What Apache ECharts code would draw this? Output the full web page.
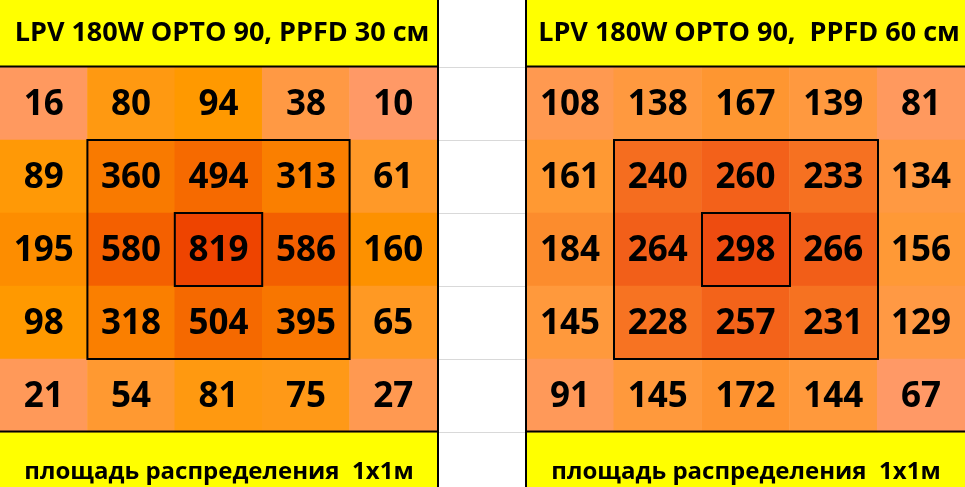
<!DOCTYPE html>
<html><head><meta charset="utf-8">
<script src="https://cdn.jsdelivr.net/npm/echarts@6/dist/echarts.min.js"></script>
<style>html,body{margin:0;padding:0;background:#fff}#c{width:965px;height:487px}</style>
</head><body><div id="c"></div>
<script>
const cols = ['1', '2', '3', '4', '5'];
const rows = ['1', '2', '3', '4', '5'];
const titleLeft = 'LPV 180W OPTO 90, PPFD 30 см';
const titleRight = 'LPV 180W OPTO 90,  PPFD 60 см';
const footerText = 'площадь распределения  1x1м';
const ppfd30 = [
  [16, 80, 94, 38, 10],
  [89, 360, 494, 313, 61],
  [195, 580, 819, 586, 160],
  [98, 318, 504, 395, 65],
  [21, 54, 81, 75, 27]
];
const ppfd60 = [
  [108, 138, 167, 139, 81],
  [161, 240, 260, 233, 134],
  [184, 264, 298, 266, 156],
  [145, 228, 257, 231, 129],
  [91, 145, 172, 144, 67]
];

// ---- layout / style ----
const L = { left: 0, width: 437 };
const R = { left: 526, width: 440 };
const TOP = 67, H = 365;
const leftStops = ['#FF9966', '#FF9900', '#EE4400'];
const rightStops = ['#FF9966', '#FF9933', '#EE4C10'];

function hex(c) { return [1, 3, 5].map(i => parseInt(c.slice(i, i + 2), 16)); }
function mix(a, b, t) {
  const A = hex(a), B = hex(b);
  return 'rgb(' + A.map((v, i) => Math.round(v + (B[i] - v) * t)).join(',') + ')';
}
function colorScale(values, stops) {
  const flat = values.flat().slice().sort((a, b) => a - b);
  const min = flat[0], max = flat[flat.length - 1], mid = flat[Math.floor(flat.length / 2)];
  return v => v <= mid ? mix(stops[0], stops[1], (v - min) / (mid - min))
                       : mix(stops[1], stops[2], (v - mid) / (max - mid));
}
function buildData(values, stops) {
  const f = colorScale(values, stops);
  const out = [];
  values.forEach((row, r) => row.forEach((v, c) => out.push({ value: [c, r, v], itemStyle: { color: f(v) } })));
  return out;
}

const labelStyle = {
  show: true, color: '#000', fontSize: 35, fontWeight: 'bold',
  fontFamily: '"Open Sans", "Noto Sans", sans-serif',
  offset: [0, 2],
  formatter: p => p.value[2]
};
function axisPair(i) {
  return {
    x: { type: 'category', data: cols, gridIndex: i, show: false },
    y: { type: 'category', data: rows, gridIndex: i, inverse: true, show: false }
  };
}
const a0 = axisPair(0), a1 = axisPair(1);

const black = { stroke: '#000', lineWidth: 2 };
function boxRects(g) {
  const cw = g.width / 5, rh = H / 5;
  return [
    { type: 'rect', z: 100, shape: { x: g.left + cw, y: TOP + rh, width: cw * 3, height: rh * 3 }, style: { fill: null, ...black } },
    { type: 'rect', z: 100, shape: { x: g.left + cw * 2, y: TOP + rh * 2, width: cw, height: rh }, style: { fill: null, ...black } }
  ];
}
const grayLines = [];
for (let i = 0; i <= 5; i++) {
  const y = TOP + (H / 5) * i + 0.5;
  grayLines.push({ type: 'line', z: 1, shape: { x1: 438, y1: y, x2: 525, y2: y }, style: { stroke: '#D9D9D9', lineWidth: 1 } });
}

const txt = (size) => ({ color: '#000', fontSize: size, fontWeight: 'bold', fontFamily: '"Open Sans", "Noto Sans", sans-serif' });

const chart = echarts.init(document.getElementById('c'), null, { renderer: 'canvas' });
chart.setOption({
  backgroundColor: '#fff',
  animation: false,
  title: [
    { text: titleLeft, left: 222, top: 33, textAlign: 'center', textVerticalAlign: 'middle', padding: 0, textStyle: txt(27) },
    { text: titleRight, left: 749, top: 33, textAlign: 'center', textVerticalAlign: 'middle', padding: 0, textStyle: txt(27) },
    { text: footerText, left: 219, top: 472, textAlign: 'center', textVerticalAlign: 'middle', padding: 0, textStyle: txt(24) },
    { text: footerText, left: 746, top: 472, textAlign: 'center', textVerticalAlign: 'middle', padding: 0, textStyle: txt(24) }
  ],
  grid: [
    { left: L.left, top: TOP, width: L.width, height: H },
    { left: R.left, top: TOP, width: R.width, height: H }
  ],
  xAxis: [a0.x, a1.x],
  yAxis: [a0.y, a1.y],
  series: [
    { type: 'heatmap', xAxisIndex: 0, yAxisIndex: 0, data: buildData(ppfd30, leftStops), label: labelStyle, emphasis: { disabled: true } },
    { type: 'heatmap', xAxisIndex: 1, yAxisIndex: 1, data: buildData(ppfd60, rightStops), label: labelStyle, emphasis: { disabled: true } }
  ],
  graphic: [
    { type: 'rect', z: 0, shape: { x: 0, y: 0, width: 437, height: 66 }, style: { fill: '#FFFF00' } },
    { type: 'rect', z: 0, shape: { x: 526, y: 0, width: 440, height: 66 }, style: { fill: '#FFFF00' } },
    { type: 'rect', z: 0, shape: { x: 0, y: 432, width: 437, height: 55 }, style: { fill: '#FFFF00' } },
    { type: 'rect', z: 0, shape: { x: 526, y: 432, width: 440, height: 55 }, style: { fill: '#FFFF00' } },
    ...grayLines,
    { type: 'line', z: 100, shape: { x1: 0, y1: 66.5, x2: 437, y2: 66.5 }, style: black },
    { type: 'line', z: 100, shape: { x1: 526, y1: 66.5, x2: 965, y2: 66.5 }, style: black },
    { type: 'line', z: 100, shape: { x1: 0, y1: 431.5, x2: 437, y2: 431.5 }, style: black },
    { type: 'line', z: 100, shape: { x1: 526, y1: 431.5, x2: 965, y2: 431.5 }, style: black },
    { type: 'line', z: 100, shape: { x1: 438, y1: 0, x2: 438, y2: 487 }, style: black },
    { type: 'line', z: 100, shape: { x1: 526, y1: 0, x2: 526, y2: 487 }, style: black },
    ...boxRects(L),
    ...boxRects(R)
  ]
});
</script>
</body></html>
